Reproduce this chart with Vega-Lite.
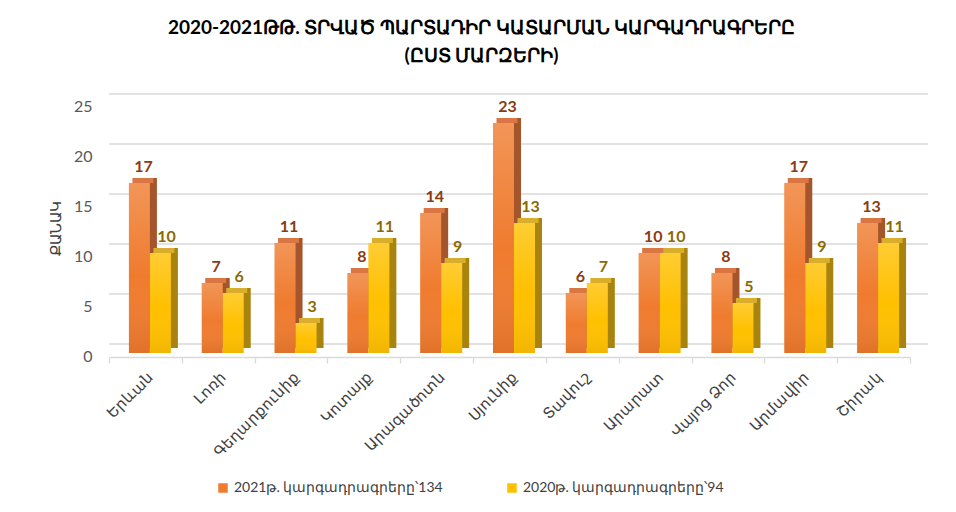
{
  "$schema": "https://vega.github.io/schema/vega-lite/v6.json",
  "width": 801,
  "height": 250,
  "autosize": {"type": "none"},
  "padding": {"left": 109, "top": 103, "right": 46, "bottom": 159},
  "background": "white",
  "title": {
    "text": ["2020-2021ԹԹ.  ՏՐՎԱԾ ՊԱՐՏԱԴԻՐ ԿԱՏԱՐՄԱՆ ԿԱՐԳԱԴՐԱԳՐԵՐԸ", "(ԸՍՏ ՄԱՐԶԵՐԻ)"],
    "anchor": "middle",
    "fontSize": 19,
    "fontWeight": "bold",
    "color": "#000000",
    "lineHeight": 28,
    "offset": 27,
    "dx": -28
  },
  "datasets": {
    "bars": [
      {"region": "Երևան", "year": "2021", "series": "2021թ. կարգադրագրերը՝134", "value": 17},
      {"region": "Լոռի", "year": "2021", "series": "2021թ. կարգադրագրերը՝134", "value": 7},
      {"region": "Գեղարքունիք", "year": "2021", "series": "2021թ. կարգադրագրերը՝134", "value": 11},
      {"region": "Կոտայք", "year": "2021", "series": "2021թ. կարգադրագրերը՝134", "value": 8},
      {"region": "Արագածոտն", "year": "2021", "series": "2021թ. կարգադրագրերը՝134", "value": 14},
      {"region": "Սյունիք", "year": "2021", "series": "2021թ. կարգադրագրերը՝134", "value": 23},
      {"region": "Տավուշ", "year": "2021", "series": "2021թ. կարգադրագրերը՝134", "value": 6},
      {"region": "Արարատ", "year": "2021", "series": "2021թ. կարգադրագրերը՝134", "value": 10},
      {"region": "Վայոց Ձոր", "year": "2021", "series": "2021թ. կարգադրագրերը՝134", "value": 8},
      {"region": "Արմավիր", "year": "2021", "series": "2021թ. կարգադրագրերը՝134", "value": 17},
      {"region": "Շիրակ", "year": "2021", "series": "2021թ. կարգադրագրերը՝134", "value": 13},
      {"region": "Երևան", "year": "2020", "series": "2020թ. կարգադրագրերը՝94", "value": 10},
      {"region": "Լոռի", "year": "2020", "series": "2020թ. կարգադրագրերը՝94", "value": 6},
      {"region": "Գեղարքունիք", "year": "2020", "series": "2020թ. կարգադրագրերը՝94", "value": 3},
      {"region": "Կոտայք", "year": "2020", "series": "2020թ. կարգադրագրերը՝94", "value": 11},
      {"region": "Արագածոտն", "year": "2020", "series": "2020թ. կարգադրագրերը՝94", "value": 9},
      {"region": "Սյունիք", "year": "2020", "series": "2020թ. կարգադրագրերը՝94", "value": 13},
      {"region": "Տավուշ", "year": "2020", "series": "2020թ. կարգադրագրերը՝94", "value": 7},
      {"region": "Արարատ", "year": "2020", "series": "2020թ. կարգադրագրերը՝94", "value": 10},
      {"region": "Վայոց Ձոր", "year": "2020", "series": "2020թ. կարգադրագրերը՝94", "value": 5},
      {"region": "Արմավիր", "year": "2020", "series": "2020թ. կարգադրագրերը՝94", "value": 9},
      {"region": "Շիրակ", "year": "2020", "series": "2020թ. կարգադրագրերը՝94", "value": 11}
    ],
    "grid": [{"v": 0}, {"v": 5}, {"v": 10}, {"v": 15}, {"v": 20}, {"v": 25}]
  },
  "layer": [
    {
      "data": {"name": "grid"},
      "mark": {"type": "rule", "color": "#d9d9d9", "strokeWidth": 1.3, "xOffset": 18, "x2Offset": 18, "yOffset": -9},
      "encoding": {
        "y": {"field": "v", "type": "quantitative", "scale": {"domain": [0, 25], "nice": false, "zero": true}, "title": "ՔԱՆԱԿ", "axis": {"values": [0, 5, 10, 15, 20, 25]}}
      }
    },
    {
      "data": {"name": "bars"},
      "transform": [{"filter": "datum.year === '2021'"}],
      "mark": {"type": "bar", "color": "#A4552C", "width": 21, "xOffset": 1, "yOffset": -5, "y2Offset": -5},
      "encoding": {
        "x": {"field": "region", "type": "nominal", "scale": {"domain": ["Երևան", "Լոռի", "Գեղարքունիք", "Կոտայք", "Արագածոտն", "Սյունիք", "Տավուշ", "Արարատ", "Վայոց Ձոր", "Արմավիր", "Շիրակ"], "paddingInner": 0, "paddingOuter": 0}, "title": null},
        "y": {"field": "value", "type": "quantitative", "scale": {"domain": [0, 25], "nice": false, "zero": true}, "title": "ՔԱՆԱԿ", "axis": {"values": [0, 5, 10, 15, 20, 25]}}
      }
    },
    {
      "data": {"name": "bars"},
      "transform": [{"filter": "datum.year === '2021'"}],
      "mark": {"type": "bar", "width": 21, "xOffset": -6},
      "encoding": {
        "x": {"field": "region", "type": "nominal", "title": null},
        "y": {"field": "value", "type": "quantitative", "scale": {"domain": [0, 25], "nice": false, "zero": true}, "title": "ՔԱՆԱԿ"},
        "fill": {"field": "series", "type": "nominal", "scale": {"domain": ["2021թ. կարգադրագրերը՝134", "2020թ. կարգադրագրերը՝94"], "range": ["#EF7B2E", "#FFC000"]}, "legend": {"title": null}}
      }
    },
    {
      "data": {"name": "bars"},
      "transform": [{"filter": "datum.year === '2021'"}],
      "mark": {"type": "bar", "width": 21, "xOffset": -6, "color": {"gradient": "linear", "x1": 0, "y1": 0, "x2": 0, "y2": 1, "stops": [{"offset": 0, "color": "rgba(255,255,255,0.2)"}, {"offset": 0.55, "color": "rgba(255,255,255,0)"}, {"offset": 1, "color": "rgba(120,40,0,0.12)"}]}},
      "encoding": {
        "x": {"field": "region", "type": "nominal", "title": null},
        "y": {"field": "value", "type": "quantitative", "scale": {"domain": [0, 25], "nice": false, "zero": true}, "title": "ՔԱՆԱԿ"}
      }
    },
    {
      "data": {"name": "bars"},
      "transform": [{"filter": "datum.year === '2021'"}],
      "mark": {"type": "tick", "color": "#D97643", "size": 21, "thickness": 5, "xOffset": -2.5, "yOffset": -2.5, "opacity": 1},
      "encoding": {
        "x": {"field": "region", "type": "nominal", "title": null},
        "y": {"field": "value", "type": "quantitative", "scale": {"domain": [0, 25], "nice": false, "zero": true}, "title": "ՔԱՆԱԿ"}
      }
    },
    {
      "data": {"name": "bars"},
      "transform": [{"filter": "datum.year === '2020'"}],
      "mark": {"type": "bar", "color": "#A8840F", "width": 21, "xOffset": 22, "yOffset": -5, "y2Offset": -5},
      "encoding": {
        "x": {"field": "region", "type": "nominal", "title": null},
        "y": {"field": "value", "type": "quantitative", "scale": {"domain": [0, 25], "nice": false, "zero": true}, "title": "ՔԱՆԱԿ"}
      }
    },
    {
      "data": {"name": "bars"},
      "transform": [{"filter": "datum.year === '2020'"}],
      "mark": {"type": "bar", "width": 21, "xOffset": 15},
      "encoding": {
        "x": {"field": "region", "type": "nominal", "title": null},
        "y": {"field": "value", "type": "quantitative", "scale": {"domain": [0, 25], "nice": false, "zero": true}, "title": "ՔԱՆԱԿ"},
        "fill": {"field": "series", "type": "nominal", "legend": {"title": null}}
      }
    },
    {
      "data": {"name": "bars"},
      "transform": [{"filter": "datum.year === '2020'"}],
      "mark": {"type": "bar", "width": 21, "xOffset": 15, "color": {"gradient": "linear", "x1": 0, "y1": 0, "x2": 0, "y2": 1, "stops": [{"offset": 0, "color": "rgba(255,255,255,0.2)"}, {"offset": 0.55, "color": "rgba(255,255,255,0)"}, {"offset": 1, "color": "rgba(120,80,0,0.1)"}]}},
      "encoding": {
        "x": {"field": "region", "type": "nominal", "title": null},
        "y": {"field": "value", "type": "quantitative", "scale": {"domain": [0, 25], "nice": false, "zero": true}, "title": "ՔԱՆԱԿ"}
      }
    },
    {
      "data": {"name": "bars"},
      "transform": [{"filter": "datum.year === '2020'"}],
      "mark": {"type": "tick", "color": "#D9AE2C", "size": 21, "thickness": 5, "xOffset": 18.5, "yOffset": -2.5, "opacity": 1},
      "encoding": {
        "x": {"field": "region", "type": "nominal", "title": null},
        "y": {"field": "value", "type": "quantitative", "scale": {"domain": [0, 25], "nice": false, "zero": true}, "title": "ՔԱՆԱԿ"}
      }
    },
    {
      "data": {"name": "bars"},
      "transform": [{"filter": "datum.year === '2021'"}],
      "mark": {"type": "text", "baseline": "alphabetic", "dy": -11, "xOffset": -2, "fontSize": 16, "fontWeight": "bold", "color": "#8B3B12"},
      "encoding": {
        "x": {"field": "region", "type": "nominal", "title": null},
        "y": {"field": "value", "type": "quantitative", "scale": {"domain": [0, 25], "nice": false, "zero": true}, "title": "ՔԱՆԱԿ"},
        "text": {"field": "value", "type": "quantitative"}
      }
    },
    {
      "data": {"name": "bars"},
      "transform": [{"filter": "datum.year === '2020'"}],
      "mark": {"type": "text", "baseline": "alphabetic", "dy": -11, "xOffset": 21, "fontSize": 16, "fontWeight": "bold", "color": "#8C6A00"},
      "encoding": {
        "x": {"field": "region", "type": "nominal", "title": null},
        "y": {"field": "value", "type": "quantitative", "scale": {"domain": [0, 25], "nice": false, "zero": true}, "title": "ՔԱՆԱԿ"},
        "text": {"field": "value", "type": "quantitative"}
      }
    }
  ],
  "config": {
    "font": "Lato",
    "view": {"stroke": null},
    "axisX": {
      "labelAngle": -45,
      "labelFontSize": 15,
      "labelColor": "#404040",
      "domainColor": "#d9d9d9",
      "domainWidth": 1.3,
      "tickColor": "#d9d9d9",
      "tickWidth": 1.3,
      "tickBand": "extent",
      "tickSize": 6,
      "offset": 4,
      "labelPadding": 6,
      "grid": false
    },
    "axisY": {
      "domain": false,
      "ticks": false,
      "grid": false,
      "labelFontSize": 16,
      "labelColor": "#595959",
      "labelPadding": 17,
      "labelOffset": 3,
      "titleFontSize": 15,
      "titleColor": "#404040",
      "titleFontWeight": "normal",
      "titlePadding": 10
    },
    "legend": {
      "orient": "none",
      "legendX": 107,
      "legendY": 378,
      "direction": "horizontal",
      "symbolType": "square",
      "symbolSize": 90,
      "symbolStrokeWidth": 0,
      "labelFontSize": 14,
      "labelLimit": 0,
      "labelColor": "#404040",
      "columnPadding": 62
    }
  }
}
